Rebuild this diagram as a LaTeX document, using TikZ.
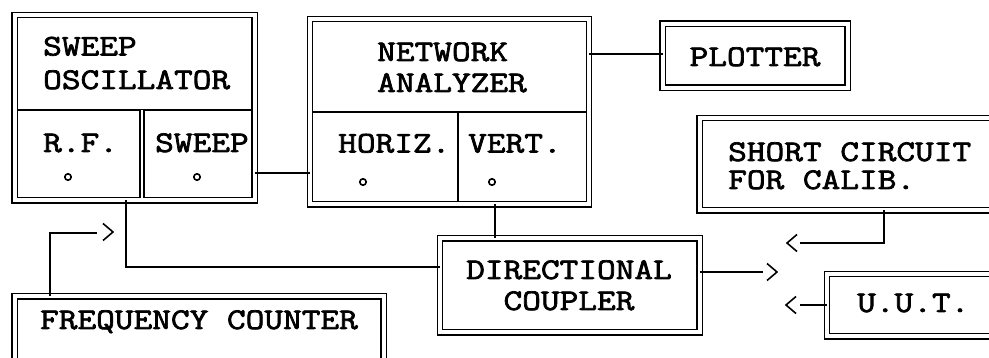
\documentclass[tikz,border=0pt]{standalone}
\usepackage{fontspec}
\newfontfamily\twfont[FakeBold=2.4,FakeStretch=1.21]{Latin Modern Mono}
\begin{document}
\begin{tikzpicture}[x=1pt,y=-1pt,
  dbox/.style={draw, double, double distance=4pt, line width=1.3pt, inner sep=0pt, outer sep=0pt},
  wire/.style={line width=1.5pt},
  tx/.style={inner sep=0pt, font=\twfont\fontsize{30}{30}\selectfont},
  knob/.style={line width=1.6pt},
  chevR/.pic={\draw[line width=1.6pt] (-10,-8.5) -- (0,0) -- (-10,8.5);},
  chevL/.pic={\draw[line width=1.6pt] (10,-8.5) -- (0,0) -- (10,8.5);}]
\useasboundingbox (0,0) rectangle (989,358);
\clip (0,0) rectangle (989,358);
% boxes
\node[dbox, minimum width=240pt, minimum height=185.5pt] (osc) at (134.5,107.75) {};
\node[dbox, minimum width=279pt, minimum height=185.5pt] (na) at (449.5,111.75) {};
\node[dbox, minimum width=185pt, minimum height=64pt] (plot) at (755,55.75) {};
\node[dbox, minimum width=320.5pt, minimum height=92.5pt] (sc) at (859.75,164.25) {};
\node[dbox, minimum width=259.5pt, minimum height=94pt] (coup) at (569.75,285.5) {};
\node[dbox, minimum width=193pt, minimum height=62.5pt] (uut) at (923.5,305.25) {};
\node[dbox, minimum width=369pt, minimum height=83.5pt] (fc) at (199,338.25) {};
% dividers
\draw[line width=1.3pt] ([xshift=2.65pt]osc.west |- 0,110) -- ([xshift=-2.65pt]osc.east |- 0,110);
\draw[double, double distance=2.7pt, line width=1.3pt] (142,110) -- ([yshift=2.65pt]osc.south -| 142,0);
\draw[line width=1.3pt] ([xshift=2.65pt]na.west |- 0,112) -- ([xshift=-2.65pt]na.east |- 0,112);
\draw[line width=1.3pt] (458,112) -- ([yshift=2.65pt]na.south -| 458,0);
% knobs
\draw[knob] (68,177) circle (3.2);
\draw[knob] (197,177) circle (3.2);
\draw[knob] (363,182) circle (3.2);
\draw[knob] (492,182) circle (3.2);
% texts
\node[tx, anchor=base west] (t1) at (43,55.5) {SWEEP};
\node[tx, anchor=base west] (t2) at (43,89) {OSCILLATOR};
\node[tx, anchor=base west] (t3) at (43,152) {R.F.};
\node[tx, anchor=base west] (t4) at (155,152) {SWEEP};
\node[tx, anchor=base west] (t5) at (377,61) {NETWORK};
\node[tx, anchor=base west] (t6) at (377,92) {ANALYZER};
\node[tx, anchor=base west] (t7) at (338,152.5) {HORIZ.};
\node[tx, anchor=base west] (t8) at (468,152.5) {VERT.};
\node[tx, anchor=base] (t9) at (755,66) {PLOTTER};
\node[tx, anchor=base west] (t10) at (728,161) {SHORT CIRCUIT};
\node[tx, anchor=base west] (t11) at (728,189) {FOR CALIB.};
\node[tx, anchor=base] (t12) at (569,279) {DIRECTIONAL};
\node[tx, anchor=base] (t13) at (569,310) {COUPLER};
\node[tx, anchor=base] (t14) at (199,329) {FREQUENCY COUNTER};
\node[tx, anchor=base west] (t15) at (857,312) {U.U.T.};
% connectors
\coordinate (fcend) at (97,233);
\coordinate (cdend) at (763,272);
\coordinate (scend) at (800,243);
\coordinate (uend) at (800,305);
\draw[wire] (osc.east |- 0,173) -- (na.west |- 0,173);
\draw[wire] (na.east |- 0,54) -- (plot.west |- 0,54);
\draw[wire] (na.south -| 495,0) -- (coup.north -| 495,0);
\draw[wire] (osc.south -| 126,0) |- (coup.west |- 0,267);
\draw[wire] (fc.north -| 50,0) |- (fcend);
\draw[wire] (coup.east |- 0,272) -- (cdend);
\draw[wire] (sc.south -| 884,0) |- (scend);
\draw[wire] (uut.west |- 0,305) -- (uend);
\pic at (113,232) {chevR};
\pic at (777,272) {chevR};
\pic at (787,243) {chevL};
\pic at (786,305) {chevL};
\end{tikzpicture}
\end{document}
